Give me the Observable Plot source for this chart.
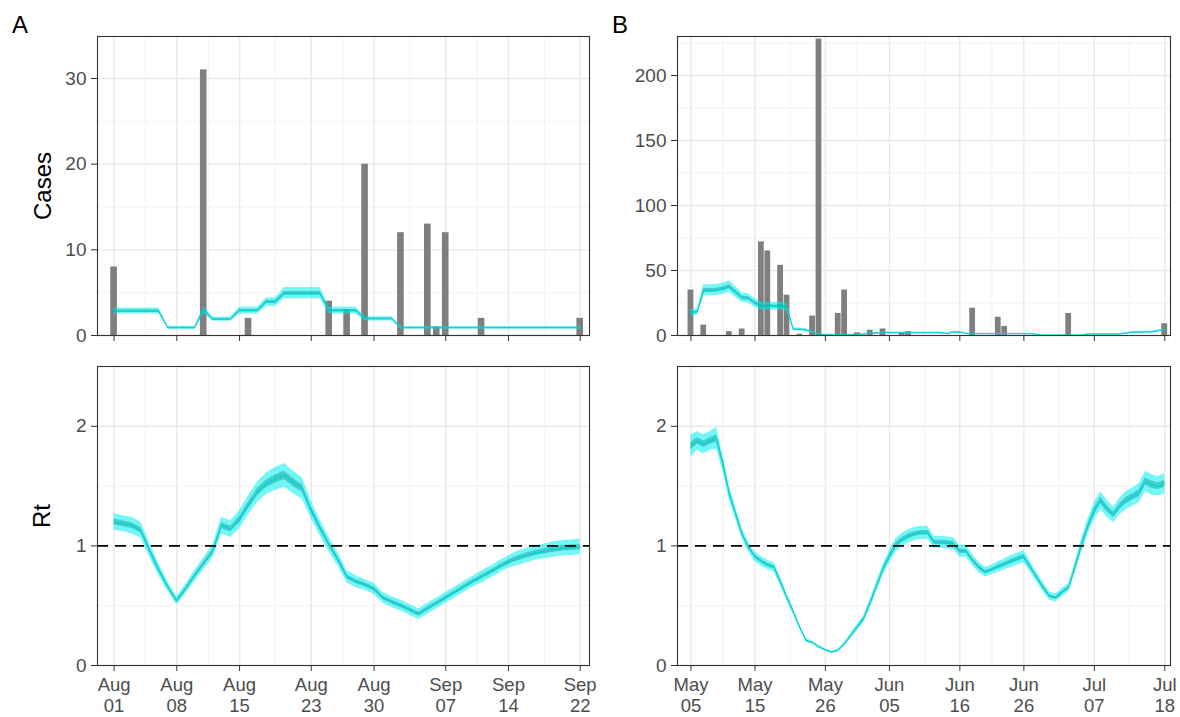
<!DOCTYPE html>
<html><head><meta charset="utf-8">
<script src="https://cdn.jsdelivr.net/npm/d3@7"></script>
<script src="https://cdn.jsdelivr.net/npm/@observablehq/plot@0.6"></script>
<style>
body{margin:0;background:#fff;font-family:"Liberation Sans",Arial,sans-serif;}
#root{position:relative;width:1180px;height:717px;overflow:hidden;background:#fff;}
.p{position:absolute;}
.tag{position:absolute;font-size:24px;line-height:1;color:#000;}
.yt{position:absolute;font-size:24px;line-height:1;color:#000;white-space:nowrap;transform:translate(-50%,-50%) rotate(-90deg);}
</style></head><body><div id="root"></div>
<script>
// ---------- data ----------
const casesADates = ["2021-08-01","2021-08-11","2021-08-16","2021-08-25","2021-08-27","2021-08-29","2021-09-02","2021-09-05","2021-09-06","2021-09-07","2021-09-11","2021-09-22"];
const casesACounts = [8,31,2,4,3,20,12,13,1,12,2,2];

const casesBDates = ["2021-05-05","2021-05-07","2021-05-11","2021-05-13","2021-05-16","2021-05-17","2021-05-19","2021-05-20","2021-05-22","2021-05-24","2021-05-25","2021-05-28","2021-05-29","2021-05-31","2021-06-02","2021-06-04","2021-06-07","2021-06-08","2021-06-18","2021-06-22","2021-06-23","2021-07-03","2021-07-18"];
const casesBCounts = [35,8,3,5,72,65,54,31,1,15,228,17,35,2,4,5,2,3,21,14,7,17,9];

const seriesAStart = "2021-08-01";
const seriesBStart = "2021-05-05";

// expected cases, panel A (daily from Aug 01)
const expAMed = [2.85,2.85,2.85,2.85,2.85,2.85,0.9,0.9,0.9,0.9,3.0,1.9,1.9,1.9,2.9,2.9,2.9,3.9,3.9,4.9,4.9,4.9,4.9,4.9,2.9,2.9,2.9,2.9,1.95,1.95,1.95,1.95,0.9,0.9,0.9,0.9,0.9,0.9,0.9,0.9,0.9,0.9,0.9,0.9,0.9,0.9,0.9,0.9,0.9,0.9,0.9,0.9,0.9];
const expALo  = [2.5,2.5,2.5,2.5,2.5,2.5,0.72,0.72,0.72,0.72,2.6,1.65,1.65,1.65,2.5,2.5,2.5,3.4,3.4,4.3,4.3,4.3,4.3,4.3,2.5,2.5,2.5,2.5,1.7,1.7,1.7,1.7,0.75,0.75,0.75,0.75,0.75,0.75,0.75,0.75,0.75,0.75,0.75,0.75,0.75,0.75,0.75,0.75,0.75,0.75,0.75,0.75,0.75];
const expAHi  = [3.2,3.2,3.2,3.2,3.2,3.2,1.08,1.08,1.08,1.08,3.4,2.15,2.15,2.15,3.3,3.3,3.3,4.4,4.4,5.6,5.6,5.6,5.6,5.6,3.3,3.3,3.3,3.3,2.2,2.2,2.2,2.2,1.05,1.05,1.05,1.05,1.05,1.05,1.05,1.05,1.05,1.05,1.05,1.05,1.05,1.05,1.05,1.05,1.05,1.05,1.05,1.05,1.05];

// expected cases, panel B (daily from May 05)
const expBMed = [17.5,18,34.5,34.5,34.8,35.8,37.5,33.3,29,28.5,
  25,22.3,22.3,22.3,22.3,21.5,4.6,4.6,4.2,2.6,
  1.0,0.5,0.5,0.5,0.5,0.6,0.8,1.0,1.5,1.8,
  2.0,2.0,2.0,2.0,2.0,2.0,2.0,2.0,2.0,2.0,
  1.4,2.5,2.5,1.4,1.3,1.3,1.3,1.3,1.3,1.3,
  1.3,1.3,1.3,1.3,0.8,0.3,0.3,0.3,0.3,0.3,
  0.3,0.3,1.0,1.0,1.0,1.0,1.0,1.0,1.8,2.4,
  2.5,2.6,2.7,3.5,4.3];
const expBLo = [15,15.5,30.5,30.5,30.8,31.7,33.2,29.3,25.5,25,
  21.8,19.4,19.4,19.4,19.4,18.6,3.6,3.6,3.2,1.9,
  0.6,0.2,0.2,0.2,0.2,0.3,0.4,0.6,1.0,1.2,
  1.4,1.4,1.4,1.4,1.4,1.4,1.4,1.4,1.4,1.4,
  0.9,1.8,1.8,0.9,0.8,0.8,0.8,0.8,0.8,0.8,
  0.8,0.8,0.8,0.8,0.4,0.1,0.1,0.1,0.1,0.1,
  0.1,0.1,0.6,0.6,0.6,0.6,0.6,0.6,1.2,1.7,
  1.8,1.9,2.0,2.7,3.4];
const expBHi = [20,20.5,39,39,39.2,40.2,42,37.5,32.8,32.2,
  28.5,25.5,25.5,25.5,25.5,24.7,5.7,5.7,5.2,3.4,
  1.5,0.9,0.9,0.9,0.9,1.0,1.2,1.5,2.0,2.4,
  2.7,2.7,2.7,2.7,2.7,2.7,2.7,2.7,2.7,2.7,
  1.9,3.2,3.2,1.9,1.8,1.8,1.8,1.8,1.8,1.8,
  1.8,1.8,1.8,1.8,1.2,0.6,0.6,0.6,0.6,0.6,
  0.6,0.6,1.5,1.5,1.5,1.5,1.5,1.5,2.4,3.1,
  3.2,3.3,3.4,4.3,5.2];

// Rt, panel A
const rtAMed = [1.20,1.185,1.17,1.13,0.96,0.80,0.66,0.54,0.64,0.75,
  0.85,0.95,1.17,1.14,1.22,1.34,1.45,1.52,1.56,1.59,
  1.53,1.48,1.30,1.15,1.01,0.885,0.74,0.70,0.675,0.64,
  0.565,0.53,0.50,0.465,0.43,0.475,0.52,0.565,0.61,0.655,
  0.70,0.74,0.78,0.825,0.865,0.895,0.92,0.94,0.955,0.97,
  0.98,0.985,0.99];
const rtALo = [1.13,1.12,1.10,1.065,0.90,0.75,0.62,0.505,0.60,0.705,
  0.80,0.895,1.10,1.07,1.145,1.26,1.365,1.43,1.465,1.49,
  1.435,1.39,1.225,1.085,0.95,0.83,0.69,0.65,0.63,0.595,
  0.52,0.485,0.455,0.42,0.385,0.43,0.475,0.52,0.565,0.61,
  0.655,0.69,0.73,0.775,0.815,0.835,0.86,0.88,0.895,0.905,
  0.915,0.92,0.925];
const rtAHi = [1.27,1.25,1.24,1.195,1.02,0.85,0.70,0.575,0.68,0.795,
  0.90,1.005,1.24,1.21,1.295,1.42,1.535,1.61,1.655,1.69,
  1.625,1.57,1.375,1.215,1.07,0.94,0.79,0.75,0.72,0.685,
  0.61,0.575,0.545,0.51,0.475,0.52,0.565,0.61,0.655,0.70,
  0.745,0.79,0.83,0.875,0.915,0.955,0.98,1.00,1.015,1.035,
  1.045,1.05,1.055];

// Rt, panel B
const rtBMed = [1.835,1.877,1.85,1.877,1.90,1.69,1.44,1.27,1.10,0.99,
  0.91,0.87,0.84,0.82,0.70,0.57,0.45,0.32,0.21,0.19,
  0.155,0.13,0.11,0.125,0.18,0.25,0.32,0.39,0.52,0.66,
  0.80,0.91,1.005,1.05,1.08,1.10,1.11,1.11,1.03,1.03,
  1.025,1.02,0.955,0.955,0.88,0.82,0.78,0.80,0.825,0.846,
  0.87,0.89,0.91,0.825,0.74,0.656,0.58,0.565,0.61,0.65,
  0.82,1.00,1.16,1.29,1.38,1.31,1.26,1.33,1.38,1.41,
  1.44,1.54,1.51,1.50,1.52];
const rtBLo = [1.745,1.797,1.77,1.797,1.81,1.62,1.38,1.22,1.055,0.95,
  0.87,0.83,0.80,0.78,0.665,0.54,0.425,0.30,0.195,0.178,
  0.143,0.12,0.10,0.113,0.165,0.23,0.295,0.36,0.485,0.62,
  0.755,0.86,0.95,0.995,1.025,1.045,1.055,1.055,0.98,0.98,
  0.975,0.97,0.905,0.905,0.835,0.775,0.74,0.76,0.78,0.80,
  0.82,0.84,0.86,0.78,0.70,0.616,0.545,0.53,0.575,0.615,
  0.775,0.945,1.095,1.22,1.305,1.24,1.195,1.26,1.305,1.335,
  1.36,1.455,1.425,1.42,1.435];
const rtBHi = [1.925,1.957,1.93,1.957,1.99,1.76,1.50,1.32,1.145,1.03,
  0.95,0.91,0.88,0.86,0.735,0.60,0.475,0.34,0.225,0.202,
  0.167,0.14,0.12,0.137,0.195,0.27,0.345,0.42,0.555,0.70,
  0.845,0.96,1.06,1.105,1.135,1.155,1.165,1.165,1.08,1.08,
  1.075,1.07,1.005,1.005,0.925,0.865,0.82,0.84,0.87,0.89,
  0.92,0.94,0.96,0.87,0.78,0.696,0.615,0.60,0.645,0.685,
  0.865,1.055,1.225,1.36,1.455,1.38,1.325,1.40,1.455,1.485,
  1.52,1.625,1.595,1.58,1.605];

// axis ticks
const ticksA = ["2021-08-01","2021-08-08","2021-08-15","2021-08-23","2021-08-30","2021-09-07","2021-09-14","2021-09-22"];
const ticksB = ["2021-05-05","2021-05-15","2021-05-26","2021-06-05","2021-06-16","2021-06-26","2021-07-07","2021-07-18"];
const casesATicks = [0,10,20,30];
const casesAMinor = [5,15,25];
const casesBTicks = [0,50,100,150,200];
const casesBMinor = [25,75,125,175,225];
const rtTicks = [0,1,2];
const rtMinor = [0.5,1.5,2.5];

// ---------- helpers ----------
const DAY = 864e5;
const parse = s => new Date(s + "T00:00:00Z");
const bars = (dates, counts) => dates.map((d, i) => ({date: parse(d), value: counts[i]}));
const series = (start, med, lo, hi) => {
  const t0 = +parse(start);
  return med.map((m, i) => ({date: new Date(t0 + i * DAY), med: m, lo: lo[i], hi: hi[i]}));
};
const fmt = d3.utcFormat("%b\n%d");
const FONT = "'Liberation Sans', Arial, sans-serif";

function panel(o) {
  const xT = o.xTicks.map(parse);
  const xMinor = d3.pairs(xT).map(([a, b]) => new Date((+a + +b) / 2));
  const marks = [
    Plot.ruleX(xMinor, {stroke: "#f1f1f1", strokeWidth: 0.9}),
    Plot.ruleY(o.yMinor, {stroke: "#f1f1f1", strokeWidth: 0.9}),
    Plot.ruleX(xT, {stroke: "#e9e9e9", strokeWidth: 1.4}),
    Plot.ruleY(o.yTicks, {stroke: "#e9e9e9", strokeWidth: 1.4})
  ];
  if (o.bars) {
    const h = o.barHalf * DAY;
    marks.push(Plot.rectY(o.bars, {x1: d => new Date(+d.date - h), x2: d => new Date(+d.date + h), y1: 0, y2: "value", fill: "#7f7f7f"}));
  }
  marks.push(Plot.areaY(o.series, {x: "date", y1: "lo", y2: "hi", fill: "#00eeee", fillOpacity: 0.55}));
  marks.push(Plot.areaY(o.series, {x: "date", y1: d => d.med - (d.med - d.lo) * 0.35, y2: d => d.med + (d.hi - d.med) * 0.35, fill: "#009c9c", fillOpacity: 0.45}));
  marks.push(Plot.lineY(o.series, {x: "date", y: "med", stroke: "#00d0d0", strokeWidth: 1}));
  if (o.rt) marks.push(Plot.ruleY([1], {stroke: "#000", strokeWidth: 1.6, strokeDasharray: "11,7"}));
  marks.push(Plot.frame({stroke: "#333", strokeWidth: 1.1}));
  marks.push(Plot.axisY(o.yTicks, {tickSize: 6, tickPadding: 5, fontSize: 19, stroke: "#333", fill: "#4d4d4d", label: null,
    tickFormat: d3.format("d")}));
  marks.push(Plot.axisX(xT, {tickSize: 6, tickPadding: 5, fontSize: 18.5, lineHeight: 1.13, stroke: "#333", fill: "#4d4d4d", label: null,
    tickFormat: o.showX ? fmt : () => ""}));
  const svg = Plot.plot({
    width: o.width, height: o.height,
    marginLeft: o.ml, marginRight: o.mr, marginTop: o.mt, marginBottom: o.mb,
    x: {type: "utc", domain: o.xDomain},
    y: {domain: o.yDomain},
    style: {fontFamily: FONT, background: "transparent", overflow: "visible"},
    marks
  });
  const div = document.createElement("div");
  div.className = "p";
  div.style.left = o.left + "px";
  div.style.top = o.top + "px";
  div.appendChild(svg);
  root.appendChild(div);
}

const root = document.getElementById("root");
const domA = [new Date(+parse("2021-08-01") - 1.85 * DAY), new Date(+parse("2021-09-22") + 1.04 * DAY)];
const domB = [new Date(+parse("2021-05-05") - 2.1 * DAY), new Date(+parse("2021-07-18") + 0.9 * DAY)];

panel({left: 0, top: 0, width: 600, height: 350, ml: 97, mr: 11, mt: 36, mb: 15,
  xDomain: domA, xTicks: ticksA, yDomain: [0, 34.9], yTicks: casesATicks, yMinor: casesAMinor,
  bars: bars(casesADates, casesACounts), barHalf: 0.37,
  series: series(seriesAStart, expAMed, expALo, expAHi), showX: false});
panel({left: 0, top: 350, width: 600, height: 367, ml: 97, mr: 11, mt: 16, mb: 52,
  xDomain: domA, xTicks: ticksA, yDomain: [0, 2.5], yTicks: rtTicks, yMinor: rtMinor,
  series: series(seriesAStart, rtAMed, rtALo, rtAHi), showX: true, rt: true});
panel({left: 600, top: 0, width: 580, height: 350, ml: 77, mr: 10, mt: 36, mb: 15,
  xDomain: domB, xTicks: ticksB, yDomain: [0, 230], yTicks: casesBTicks, yMinor: casesBMinor,
  bars: bars(casesBDates, casesBCounts), barHalf: 0.45,
  series: series(seriesBStart, expBMed, expBLo, expBHi), showX: false});
panel({left: 600, top: 350, width: 580, height: 367, ml: 77, mr: 10, mt: 16, mb: 52,
  xDomain: domB, xTicks: ticksB, yDomain: [0, 2.5], yTicks: rtTicks, yMinor: rtMinor,
  series: series(seriesBStart, rtBMed, rtBLo, rtBHi), showX: true, rt: true});

// titles and panel tags
const addText = (cls, txt, x, y) => {
  const e = document.createElement("div");
  e.className = cls; e.textContent = txt;
  e.style.left = x + "px"; e.style.top = y + "px";
  root.appendChild(e);
};
addText("tag", "A", 12, 13);
addText("tag", "B", 612, 13);
addText("yt", "Cases", 43, 185.5);
addText("yt", "Rt", 42, 515.5);
</script></body></html>
